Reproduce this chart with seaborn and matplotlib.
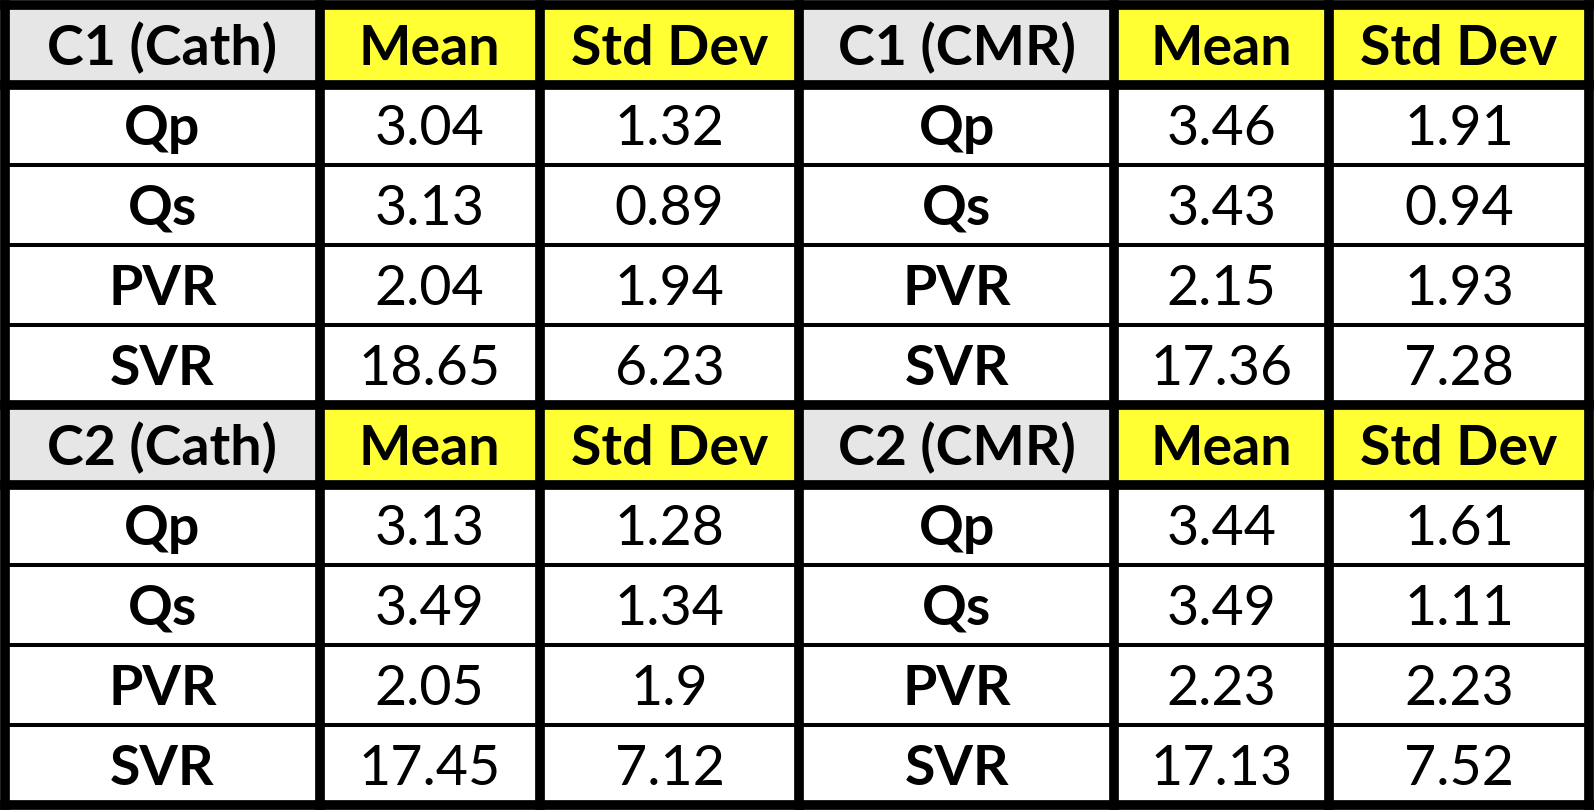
import matplotlib
matplotlib.use("Agg")
import matplotlib.pyplot as plt
from matplotlib.colors import ListedColormap
import numpy as np
import seaborn as sns

# table contents
variables = ["Qp", "Qs", "PVR", "SVR"]
col_headers = ["Mean", "Std Dev"]
block_titles = [["C1 (Cath)", "C1 (CMR)"], ["C2 (Cath)", "C2 (CMR)"]]

c1_cath_mean = [3.04, 3.13, 2.04, 18.65]
c1_cath_std = [1.32, 0.89, 1.94, 6.23]
c1_cmr_mean = [3.46, 3.43, 2.15, 17.36]
c1_cmr_std = [1.91, 0.94, 1.93, 7.28]
c2_cath_mean = [3.13, 3.49, 2.05, 17.45]
c2_cath_std = [1.28, 1.34, 1.9, 7.12]
c2_cmr_mean = [3.44, 3.49, 2.23, 17.13]
c2_cmr_std = [1.61, 1.11, 2.23, 7.52]

blocks = [
    [(c1_cath_mean, c1_cath_std), (c1_cmr_mean, c1_cmr_std)],
    [(c2_cath_mean, c2_cath_std), (c2_cmr_mean, c2_cmr_std)],
]

# build the grid of labels (10 rows x 6 columns) and cell colour codes
labels = []
codes = []
for b, block in enumerate(blocks):
    head = []
    for s in range(2):
        head += [block_titles[b][s]] + col_headers
    labels.append(head)
    codes.append([1, 2, 2, 1, 2, 2])
    for i, var in enumerate(variables):
        row = []
        for mean, std in block:
            row += [var, str(mean[i]), str(std[i])]
        labels.append(row)
        codes.append([0] * 6)
codes = np.array(codes)

# unequal column widths: expand each logical column into narrow units
widths = np.array([63, 44, 52, 63, 43, 52])
edges = np.concatenate([[0], np.cumsum(widths)])
grid = np.repeat(codes, widths, axis=1)

fig = plt.figure(figsize=(15.94, 8.10), dpi=100)
ax = fig.add_axes([0, 0, 1, 1])
cmap = ListedColormap(["#ffffff", "#e6e6e6", "#ffff33"])
sns.heatmap(grid, cmap=cmap, vmin=0, vmax=2, cbar=False,
            xticklabels=False, yticklabels=False, ax=ax)

nrows = codes.shape[0]
ax.set_xlim(-1, edges[-1] + 1)
ax.set_ylim(nrows + 0.0625, -0.0625)

# borders
thick_rows = [0, 1, 5, 6, 10]
thin_rows = [r for r in range(nrows + 1) if r not in thick_rows]
lc = ax.vlines(edges, 0, nrows, color="black", lw=7.0)
lc.set_capstyle("projecting")
lc = ax.hlines(thin_rows, 0, edges[-1], color="black", lw=2.9)
lc.set_capstyle("butt")
lc = ax.hlines(thick_rows, 0, edges[-1], color="black", lw=7.0)
lc.set_capstyle("projecting")

# text sits with its capitals centred in the cell
font = ["Lato", "DejaVu Sans"]
for r in range(nrows):
    for c in range(6):
        header = codes[r, c] != 0 or c in (0, 3)
        ax.text((edges[c] + edges[c + 1]) / 2, r + 0.5 + 0.25, labels[r][c],
                ha="center", va="baseline", fontsize=40, family=font,
                fontweight="bold" if header else "normal", color="black")

fig.savefig("out.png", dpi=100)
